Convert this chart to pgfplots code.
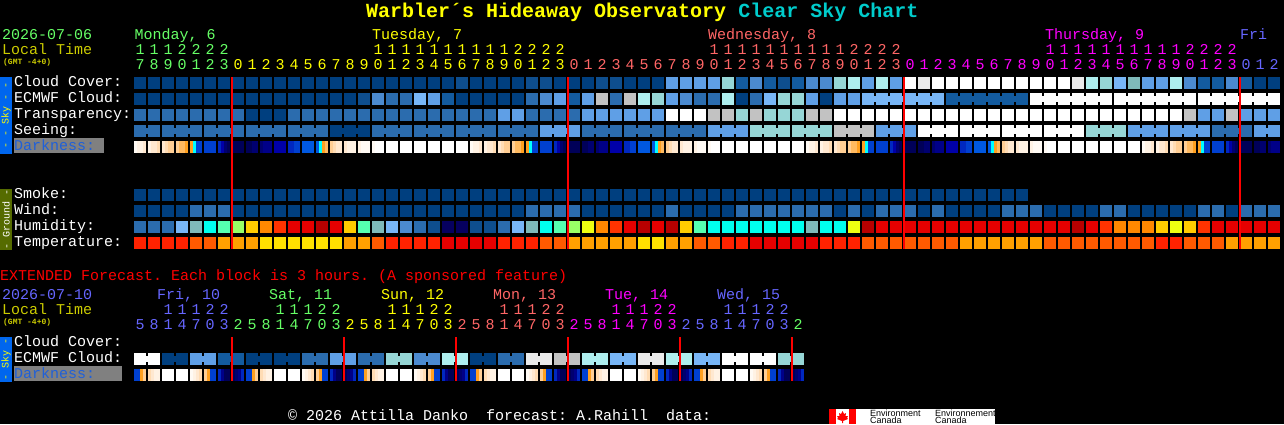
\documentclass[border=0pt]{standalone}
\usepackage{fontspec}
\setmainfont{Liberation Mono}
\usepackage{pgfplots}
\usetikzlibrary{plotmarks}
\pgfplotsset{compat=1.18}
% sky palette
\definecolor{c0}{HTML}{003F7F}\definecolor{c1}{HTML}{135B9F}\definecolor{c2}{HTML}{2B6CAE}
\definecolor{c3}{HTML}{4B8ACF}\definecolor{c4}{HTML}{5F9FE6}\definecolor{c5}{HTML}{78B6F6}
\definecolor{c6}{HTML}{7FBABA}\definecolor{c7}{HTML}{96D6D6}\definecolor{c8}{HTML}{AEEEEE}
\definecolor{c9}{HTML}{C2C2C2}\definecolor{c10}{HTML}{EAEAEA}\definecolor{c11}{HTML}{FFFFFF}
\definecolor{c46}{HTML}{0E4E8E}
% ground palette
\definecolor{c12}{HTML}{06005F}\definecolor{c13}{HTML}{00FFEE}\definecolor{c14}{HTML}{55FFB0}
\definecolor{c15}{HTML}{99FF66}\definecolor{c16}{HTML}{EEFF11}\definecolor{c17}{HTML}{FFCC00}
\definecolor{c18}{HTML}{FF8800}\definecolor{c19}{HTML}{FF3300}\definecolor{c20}{HTML}{E60000}
\definecolor{c21}{HTML}{B80000}\definecolor{c22}{HTML}{FF2200}\definecolor{c23}{HTML}{FF5A00}
\definecolor{c24}{HTML}{FFA000}\definecolor{c25}{HTML}{FFE000}
% darkness palette
\definecolor{c31}{HTML}{FFFAF4}\definecolor{c32}{HTML}{FFF2E4}\definecolor{c33}{HTML}{FFE8D0}
\definecolor{c34}{HTML}{FFDCB4}\definecolor{c35}{HTML}{FFCE94}\definecolor{c36}{HTML}{FFBA60}
\definecolor{c37}{HTML}{FFA020}\definecolor{c38}{HTML}{00FFFF}\definecolor{c39}{HTML}{0058E0}
\definecolor{c40}{HTML}{0040D0}\definecolor{c41}{HTML}{0028C0}\definecolor{c42}{HTML}{0000A8}
\definecolor{c43}{HTML}{000088}\definecolor{c44}{HTML}{000070}\definecolor{c45}{HTML}{000058}
% text colours
\definecolor{tgreen}{HTML}{66FF66}\definecolor{tyellow}{HTML}{FFFF00}\definecolor{tsalmon}{HTML}{FF6666}
\definecolor{tmagenta}{HTML}{FF00FF}\definecolor{tblue}{HTML}{6666FF}\definecolor{tolive}{HTML}{CCCC00}
\definecolor{tcyan}{HTML}{00CCCC}\definecolor{dkblue}{HTML}{2060D8}
\definecolor{skybar}{HTML}{0066EE}\definecolor{groundbar}{HTML}{556B00}
\pgfdeclareplotmark{cell}{\pgfpathrectangle{\pgfpoint{-6pt}{-6pt}}{\pgfpoint{12pt}{12pt}}\pgfusepathqfill}
\pgfdeclareplotmark{strip}{\pgfpathrectangle{\pgfpoint{-1.5pt}{-6pt}}{\pgfpoint{3.1pt}{12pt}}\pgfusepathqfill}
\pgfdeclareplotmark{bridge}{\pgfpathrectangle{\pgfpoint{-1.2pt}{-3pt}}{\pgfpoint{2.4pt}{6pt}}\pgfusepathqfill}
% meta value of a point picks its colour c<level>
\pgfplotsset{blocks/.style={scatter,only marks,mark=#1,point meta=explicit symbolic,
  scatter/@pre marker code/.code={\edef\tmpscope{\noexpand\scope[fill=c\pgfplotspointmeta]}\tmpscope},
  scatter/@post marker code/.code={\endscope}}}
\newcommand\reg{\fontsize{15}{15}\selectfont}
% one row of blocks: y centre, list of colour levels
\newcommand\cellrow[2]{\addplot[blocks=cell] table[row sep=crcr,header=false,x expr=\coordindex*14+140,y expr=#1,meta index=0]{#2};}
% darkness row: four strips to a block
\newcommand\darkrow[2]{\addplot[blocks=strip] table[row sep=crcr,header=false,x expr={\coordindex*3+2*floor((\coordindex+0.5)/4)+135.5},y expr=#1,meta index=0]{#2};}
% joins between blocks: y centre, pairs of column and level
\newcommand\bridges[2]{\addplot[blocks=bridge] table[row sep=crcr,header=false,x expr=\thisrowno{0}*14+147,y expr=#1,meta index=1]{#2};}
% hour digits: colour, baseline, x of first, digits
\newcommand\digits[4]{\addplot[draw=none,mark=none,nodes near coords,point meta=explicit symbolic,
  nodes near coords style={anchor=base,inner sep=0pt,yshift=1pt,text=#1,font=\reg}]
  table[row sep=crcr,header=false,x expr=\coordindex*14+#3,y expr=#2,meta index=0]{#4};}
\newcommand\txt[4]{\node[anchor=base west,inner sep=0pt,yshift=1pt,text=#1,font=\reg] at (axis cs:#2,#3) {#4};}
\begin{document}
\frenchspacing
\begin{tikzpicture}
\begin{axis}[
  scale only axis,width=1284pt,height=424pt,
  xmin=0,xmax=1284,ymin=0,ymax=424,y dir=reverse,
  ticks=none,axis line style={draw=none},clip=false,clip marker paths=true,
  axis background/.style={fill=black},
]
% cloud cover
\cellrow{83}{0\\0\\0\\0\\0\\0\\0\\0\\0\\0\\0\\0\\0\\0\\0\\0\\0\\0\\0\\0\\0\\0\\0\\46\\0\\0\\0\\0\\46\\46\\0\\0\\0\\46\\46\\0\\0\\0\\4\\4\\4\\4\\7\\1\\3\\1\\46\\1\\3\\3\\7\\8\\4\\8\\4\\11\\10\\11\\11\\11\\11\\11\\11\\11\\11\\11\\11\\10\\8\\7\\5\\6\\4\\4\\8\\3\\1\\1\\3\\1\\0\\0\\}
% ecmwf cloud
\cellrow{99}{0\\0\\0\\0\\0\\0\\0\\0\\0\\0\\0\\0\\0\\0\\0\\0\\46\\3\\2\\2\\5\\4\\1\\0\\0\\0\\0\\0\\2\\3\\4\\1\\4\\9\\2\\9\\8\\7\\4\\3\\2\\2\\8\\0\\2\\5\\7\\7\\4\\0\\4\\4\\5\\5\\5\\5\\5\\5\\1\\1\\1\\1\\1\\1\\11\\11\\11\\11\\11\\11\\11\\11\\11\\11\\11\\11\\11\\11\\11\\11\\11\\11\\}
\bridges{99}{52 5\\53 5\\54 5\\55 5\\56 5\\58 1\\59 1\\60 1\\61 1\\62 1\\64 11\\65 11\\66 11\\67 11\\68 11\\70 11\\71 11\\72 11\\73 11\\74 11\\76 11\\77 11\\78 11\\79 11\\80 11\\}
% transparency
\cellrow{115}{2\\2\\2\\2\\2\\2\\2\\2\\0\\0\\0\\2\\2\\2\\2\\2\\2\\2\\2\\2\\2\\2\\2\\2\\2\\2\\4\\4\\2\\2\\2\\2\\4\\4\\4\\4\\4\\4\\11\\11\\11\\9\\9\\7\\9\\7\\7\\7\\9\\9\\11\\11\\11\\11\\11\\11\\11\\11\\11\\11\\11\\11\\11\\11\\11\\11\\11\\11\\11\\11\\11\\11\\11\\11\\11\\9\\4\\4\\9\\4\\4\\4\\}
% seeing
\cellrow{131}{2\\2\\2\\2\\2\\2\\2\\2\\2\\2\\2\\2\\2\\2\\0\\0\\0\\2\\2\\2\\2\\2\\2\\2\\2\\2\\2\\2\\2\\4\\4\\4\\2\\2\\2\\2\\2\\2\\2\\2\\2\\4\\4\\4\\7\\7\\7\\7\\7\\7\\9\\9\\9\\4\\4\\4\\11\\11\\11\\11\\11\\11\\11\\11\\11\\11\\11\\11\\7\\7\\7\\4\\4\\4\\4\\4\\4\\2\\2\\2\\4\\4\\}
\bridges{131}{0 2\\2 2\\3 2\\5 2\\6 2\\8 2\\9 2\\11 2\\12 2\\14 0\\15 0\\17 2\\18 2\\20 2\\21 2\\23 2\\24 2\\26 2\\27 2\\29 4\\30 4\\32 2\\33 2\\35 2\\36 2\\38 2\\39 2\\41 4\\42 4\\44 7\\45 7\\47 7\\48 7\\50 9\\51 9\\53 4\\54 4\\56 11\\57 11\\59 11\\60 11\\62 11\\63 11\\65 11\\66 11\\68 7\\69 7\\71 4\\72 4\\74 4\\75 4\\77 2\\78 2\\80 4\\}
% darkness
\darkrow{147}{31\\32\\32\\33\\32\\33\\33\\34\\33\\34\\35\\35\\35\\36\\36\\37\\37\\38\\40\\40\\40\\40\\40\\40\\41\\42\\44\\45\\45\\45\\45\\45\\45\\45\\44\\44\\44\\43\\43\\43\\42\\42\\42\\42\\41\\41\\40\\40\\39\\39\\39\\39\\39\\38\\37\\36\\35\\34\\33\\33\\33\\32\\32\\32\\32\\31\\31\\31\\31\\11\\11\\11\\11\\11\\11\\11\\11\\11\\11\\11\\11\\11\\11\\11\\11\\11\\11\\11\\11\\11\\11\\11\\11\\11\\11\\11\\31\\32\\32\\33\\32\\33\\33\\34\\33\\34\\35\\35\\35\\36\\36\\37\\37\\38\\40\\40\\40\\40\\40\\40\\41\\42\\44\\45\\45\\45\\45\\45\\45\\45\\44\\44\\44\\43\\43\\43\\42\\42\\42\\42\\41\\41\\40\\40\\39\\39\\39\\39\\39\\38\\37\\36\\35\\34\\33\\33\\33\\32\\32\\32\\32\\31\\31\\31\\31\\11\\11\\11\\11\\11\\11\\11\\11\\11\\11\\11\\11\\11\\11\\11\\11\\11\\11\\11\\11\\11\\11\\11\\11\\11\\11\\11\\31\\32\\32\\33\\32\\33\\33\\34\\33\\34\\35\\35\\35\\36\\36\\37\\37\\38\\40\\40\\40\\40\\40\\40\\41\\42\\44\\45\\45\\45\\45\\45\\45\\45\\44\\44\\44\\43\\43\\43\\42\\42\\42\\42\\41\\41\\40\\40\\39\\39\\39\\39\\39\\38\\37\\36\\35\\34\\33\\33\\33\\32\\32\\32\\32\\31\\31\\31\\31\\11\\11\\11\\11\\11\\11\\11\\11\\11\\11\\11\\11\\11\\11\\11\\11\\11\\11\\11\\11\\11\\11\\11\\11\\11\\11\\11\\31\\32\\32\\33\\32\\33\\33\\34\\33\\34\\35\\35\\35\\36\\36\\37\\37\\38\\40\\40\\40\\40\\40\\40\\41\\42\\44\\45\\45\\45\\45\\45\\45\\45\\44\\44\\44\\43\\43\\43\\}
% smoke
\cellrow{195}{0\\0\\0\\0\\0\\0\\0\\0\\0\\0\\0\\0\\0\\0\\0\\0\\0\\0\\0\\0\\0\\0\\0\\0\\0\\0\\0\\0\\0\\0\\0\\0\\0\\0\\0\\0\\0\\0\\0\\0\\0\\0\\0\\0\\0\\0\\0\\0\\0\\0\\0\\0\\0\\0\\0\\0\\0\\0\\0\\0\\0\\0\\0\\0\\}
% wind
\cellrow{211}{0\\0\\0\\0\\2\\2\\2\\0\\0\\0\\0\\0\\0\\0\\0\\0\\0\\0\\0\\0\\0\\0\\0\\0\\0\\0\\0\\0\\2\\2\\2\\2\\0\\0\\0\\0\\0\\0\\2\\0\\0\\0\\0\\2\\2\\2\\2\\2\\2\\2\\0\\2\\0\\2\\2\\2\\0\\2\\0\\0\\0\\0\\2\\2\\2\\0\\0\\0\\0\\2\\2\\0\\0\\0\\0\\0\\2\\2\\0\\2\\2\\2\\}
% humidity
\cellrow{227}{2\\2\\2\\5\\6\\13\\14\\15\\17\\18\\19\\20\\20\\21\\20\\17\\14\\6\\5\\3\\2\\46\\12\\12\\46\\46\\2\\5\\6\\13\\14\\15\\16\\18\\19\\20\\21\\20\\21\\17\\14\\13\\13\\13\\13\\13\\13\\13\\6\\13\\13\\16\\21\\20\\20\\20\\20\\20\\20\\20\\20\\20\\20\\20\\20\\20\\20\\21\\20\\19\\18\\18\\18\\17\\16\\17\\19\\20\\20\\20\\20\\20\\}
% temperature
\cellrow{243}{22\\22\\22\\22\\23\\23\\24\\24\\24\\25\\25\\25\\25\\25\\25\\24\\24\\23\\22\\22\\22\\22\\20\\20\\20\\20\\22\\22\\22\\23\\23\\24\\24\\24\\24\\24\\25\\25\\24\\24\\23\\23\\22\\22\\20\\20\\20\\20\\20\\22\\22\\22\\23\\23\\23\\23\\23\\23\\23\\24\\24\\24\\24\\24\\24\\23\\23\\23\\23\\23\\23\\23\\23\\22\\22\\23\\23\\23\\24\\24\\24\\24\\}
% extended ecmwf cloud, two blocks joined per value
\cellrow{359}{11\\11\\0\\0\\4\\4\\1\\1\\0\\0\\0\\0\\2\\2\\4\\4\\2\\2\\7\\7\\3\\3\\8\\8\\0\\0\\2\\2\\10\\10\\9\\9\\8\\8\\5\\5\\10\\10\\8\\8\\5\\5\\11\\11\\11\\11\\7\\7\\}
\bridges{359}{0 11\\2 0\\4 4\\6 1\\8 0\\10 0\\12 2\\14 4\\16 2\\18 7\\20 3\\22 8\\24 0\\26 2\\28 10\\30 9\\32 8\\34 5\\36 10\\38 8\\40 5\\42 11\\44 11\\46 7\\}
% extended darkness
\darkrow{375}{40\\40\\37\\35\\34\\33\\32\\32\\11\\11\\11\\11\\11\\11\\11\\11\\31\\32\\33\\34\\35\\37\\40\\40\\41\\43\\45\\45\\45\\44\\43\\41\\40\\40\\37\\35\\34\\33\\32\\32\\11\\11\\11\\11\\11\\11\\11\\11\\31\\32\\33\\34\\35\\37\\40\\40\\41\\43\\45\\45\\45\\44\\43\\41\\40\\40\\37\\35\\34\\33\\32\\32\\11\\11\\11\\11\\11\\11\\11\\11\\31\\32\\33\\34\\35\\37\\40\\40\\41\\43\\45\\45\\45\\44\\43\\41\\40\\40\\37\\35\\34\\33\\32\\32\\11\\11\\11\\11\\11\\11\\11\\11\\31\\32\\33\\34\\35\\37\\40\\40\\41\\43\\45\\45\\45\\44\\43\\41\\40\\40\\37\\35\\34\\33\\32\\32\\11\\11\\11\\11\\11\\11\\11\\11\\31\\32\\33\\34\\35\\37\\40\\40\\41\\43\\45\\45\\45\\44\\43\\41\\40\\40\\37\\35\\34\\33\\32\\32\\11\\11\\11\\11\\11\\11\\11\\11\\31\\32\\33\\34\\35\\37\\40\\40\\41\\43\\45\\45\\45\\44\\43\\41\\}
% midnight lines
\addplot[red,line width=2pt,forget plot] coordinates {(232,77) (232,249)};
\addplot[red,line width=2pt,forget plot] coordinates {(568,77) (568,249)};
\addplot[red,line width=2pt,forget plot] coordinates {(904,77) (904,249)};
\addplot[red,line width=2pt,forget plot] coordinates {(1240,77) (1240,249)};
\addplot[red,line width=2pt,forget plot] coordinates {(232,337) (232,381)};
\addplot[red,line width=2pt,forget plot] coordinates {(344,337) (344,381)};
\addplot[red,line width=2pt,forget plot] coordinates {(456,337) (456,381)};
\addplot[red,line width=2pt,forget plot] coordinates {(568,337) (568,381)};
\addplot[red,line width=2pt,forget plot] coordinates {(680,337) (680,381)};
\addplot[red,line width=2pt,forget plot] coordinates {(792,337) (792,381)};
% hour digits, hourly part
\digits{tgreen}{55}{140}{1\\1\\1\\2\\2\\2\\2\\}
\digits{tgreen}{70}{140}{7\\8\\9\\0\\1\\2\\3\\}
\digits{tyellow}{55}{378}{1\\1\\1\\1\\1\\1\\1\\1\\1\\1\\2\\2\\2\\2\\}
\digits{tyellow}{70}{238}{0\\1\\2\\3\\4\\5\\6\\7\\8\\9\\0\\1\\2\\3\\4\\5\\6\\7\\8\\9\\0\\1\\2\\3\\}
\digits{tsalmon}{55}{714}{1\\1\\1\\1\\1\\1\\1\\1\\1\\1\\2\\2\\2\\2\\}
\digits{tsalmon}{70}{574}{0\\1\\2\\3\\4\\5\\6\\7\\8\\9\\0\\1\\2\\3\\4\\5\\6\\7\\8\\9\\0\\1\\2\\3\\}
\digits{tmagenta}{55}{1050}{1\\1\\1\\1\\1\\1\\1\\1\\1\\1\\2\\2\\2\\2\\}
\digits{tmagenta}{70}{910}{0\\1\\2\\3\\4\\5\\6\\7\\8\\9\\0\\1\\2\\3\\4\\5\\6\\7\\8\\9\\0\\1\\2\\3\\}
\digits{tblue}{70}{1246}{0\\1\\2\\}
% hour digits, extended part
\digits{tblue}{315}{168}{1\\1\\1\\2\\2\\}
\digits{tblue}{330}{140}{5\\8\\1\\4\\7\\0\\3\\}
\digits{tgreen}{315}{280}{1\\1\\1\\2\\2\\}
\digits{tgreen}{330}{238}{2\\5\\8\\1\\4\\7\\0\\3\\}
\digits{tyellow}{315}{392}{1\\1\\1\\2\\2\\}
\digits{tyellow}{330}{350}{2\\5\\8\\1\\4\\7\\0\\3\\}
\digits{tsalmon}{315}{504}{1\\1\\1\\2\\2\\}
\digits{tsalmon}{330}{462}{2\\5\\8\\1\\4\\7\\0\\3\\}
\digits{tmagenta}{315}{616}{1\\1\\1\\2\\2\\}
\digits{tmagenta}{330}{574}{2\\5\\8\\1\\4\\7\\0\\3\\}
\digits{tblue}{315}{728}{1\\1\\1\\2\\2\\}
\digits{tblue}{330}{686}{2\\5\\8\\1\\4\\7\\0\\3\\}
\digits{tgreen}{330}{798}{2\\}
% title
\node[anchor=base west,inner sep=0pt,font=\fontsize{20}{20}\selectfont\bfseries] at (axis cs:366,17)
  {\textcolor{tyellow}{Warbler´s Hideaway Observatory} \textcolor{tcyan}{Clear Sky Chart}};
% dates
\txt{tgreen}{2}{40}{2026-07-06}
\txt{tolive}{2}{55}{Local Time}
\node[anchor=base west,inner sep=0pt,text=tolive,font=\fontsize{8}{8}\selectfont\bfseries] at (axis cs:3,64.5) {(GMT -4+0)};
\txt{tgreen}{134.5}{40}{Monday, 6}
\txt{tyellow}{372}{40}{Tuesday, 7}
\txt{tsalmon}{708}{40}{Wednesday, 8}
\txt{tmagenta}{1045}{40}{Thursday, 9}
\txt{tblue}{1240}{40}{Fri}
% row labels
\fill[fill=gray] (axis cs:14,138) rectangle (axis cs:104,153);
\txt{white}{14}{87}{Cloud Cover:}
\txt{white}{14}{103}{ECMWF Cloud:}
\txt{white}{14}{119}{Transparency:}
\txt{white}{14}{135}{Seeing:}
\txt{dkblue}{14}{151}{Darkness:}
\txt{white}{14}{199}{Smoke:}
\txt{white}{14}{215}{Wind:}
\txt{white}{14}{231}{Humidity:}
\txt{white}{14}{247}{Temperature:}
% side bars
\fill[skybar] (axis cs:0,77) rectangle (axis cs:12,153.5);
\node[rotate=90,inner sep=0pt,text=tyellow,font=\fontsize{10}{10}\selectfont] at (axis cs:6,115) {- - Sky - -};
\fill[groundbar] (axis cs:0,189) rectangle (axis cs:12,250);
\node[rotate=90,inner sep=0pt,text=white,font=\fontsize{10}{10}\selectfont] at (axis cs:6,219.5) {- Ground -};
\fill[skybar] (axis cs:0,337) rectangle (axis cs:12,382);
\node[rotate=90,inner sep=0pt,text=tyellow,font=\fontsize{10}{10}\selectfont] at (axis cs:6,359.5) {- Sky -};
% extended part
\txt{red}{0}{281}{EXTENDED Forecast. Each block is 3 hours. (A sponsored feature)}
\txt{tblue}{2}{300}{2026-07-10}
\txt{tolive}{2}{315}{Local Time}
\node[anchor=base west,inner sep=0pt,text=tolive,font=\fontsize{8}{8}\selectfont\bfseries] at (axis cs:3,324) {(GMT -4+0)};
\txt{tblue}{157}{300}{Fri, 10}
\txt{tgreen}{269}{300}{Sat, 11}
\txt{tyellow}{381}{300}{Sun, 12}
\txt{tsalmon}{493}{300}{Mon, 13}
\txt{tmagenta}{605}{300}{Tue, 14}
\txt{tblue}{717}{300}{Wed, 15}
\fill[fill=gray] (axis cs:14,366) rectangle (axis cs:122,381);
\txt{white}{14}{347}{Cloud Cover:}
\txt{white}{14}{363}{ECMWF Cloud:}
\txt{dkblue}{14}{379}{Darkness:}
% footer
\txt{white}{288}{421}{© 2026 Attilla Danko\ \ forecast: A.Rahill\ \ data:}
% agency logo
\fill[white] (axis cs:829,409) rectangle (axis cs:995,424);
\fill[red] (axis cs:829,409) rectangle (axis cs:836,424);
\fill[red] (axis cs:849,409) rectangle (axis cs:856,424);
\fill[red] (axis cs:842.5,411) -- (axis cs:844,414) -- (axis cs:846,413) -- (axis cs:845.5,416) -- (axis cs:848,416) -- (axis cs:847,418) -- (axis cs:848,419) -- (axis cs:843,421) -- (axis cs:843,423) -- (axis cs:842,423) -- (axis cs:842,421) -- (axis cs:837,419) -- (axis cs:838,418) -- (axis cs:837,416) -- (axis cs:839.5,416) -- (axis cs:839,413) -- (axis cs:841,414) -- cycle;
\node[anchor=base west,inner sep=0pt,text=black,font=\fontspec{Liberation Sans}\fontsize{9}{9}\selectfont] at (axis cs:870,416) {Environment};
\node[anchor=base west,inner sep=0pt,text=black,font=\fontspec{Liberation Sans}\fontsize{9}{9}\selectfont] at (axis cs:870,423.5) {Canada};
\node[anchor=base west,inner sep=0pt,text=black,font=\fontspec{Liberation Sans}\fontsize{9}{9}\selectfont] at (axis cs:935,416) {Environnement};
\node[anchor=base west,inner sep=0pt,text=black,font=\fontspec{Liberation Sans}\fontsize{9}{9}\selectfont] at (axis cs:935,423.5) {Canada};
\end{axis}
\end{tikzpicture}
\end{document}
